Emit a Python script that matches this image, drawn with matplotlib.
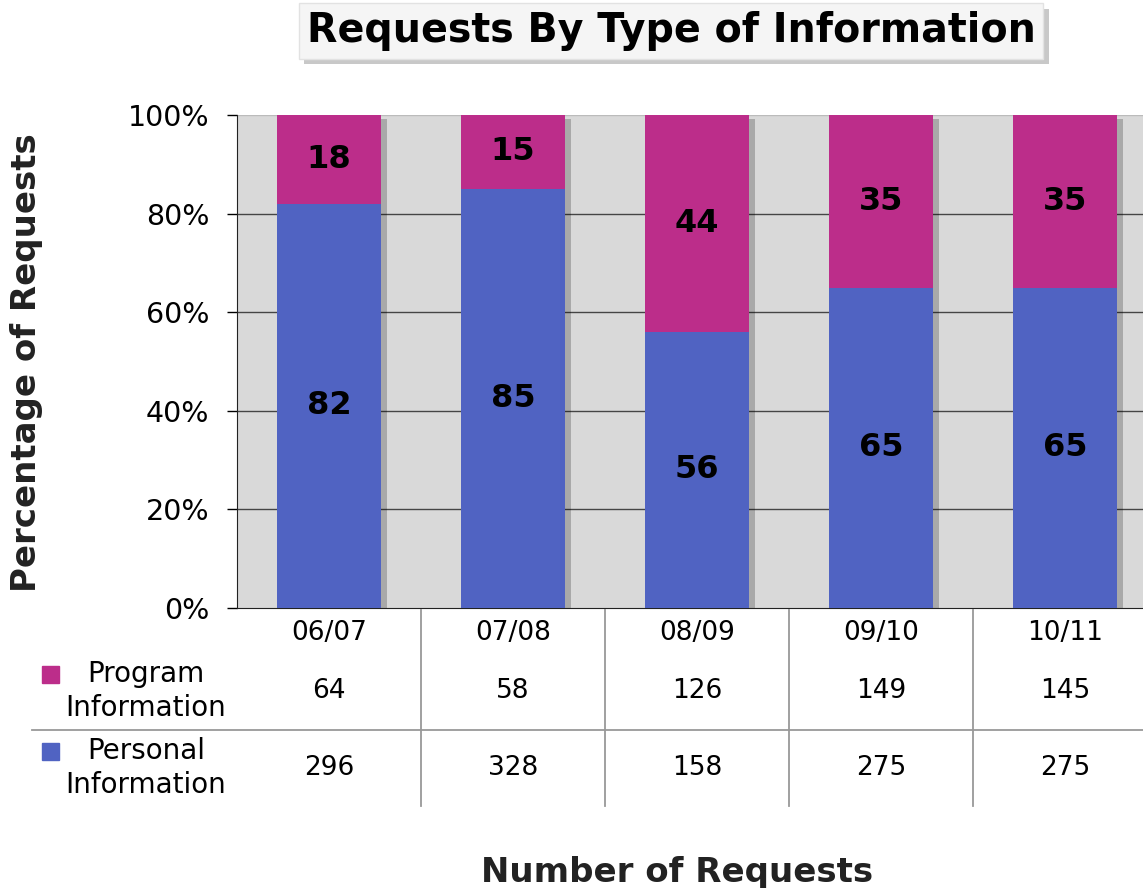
import matplotlib

matplotlib.use("Agg")
import matplotlib.pyplot as plt
import matplotlib.patheffects as pe
import matplotlib.transforms as mtransforms
import numpy as np

# --- данные ---
periods = ["06/07", "07/08", "08/09", "09/10", "10/11"]
personal_pct = [82, 85, 56, 65, 65]
program_pct = [18, 15, 44, 35, 35]
program_count = [64, 58, 126, 149, 145]
personal_count = [296, 328, 158, 275, 275]

BLUE = "#5063C2"
MAGENTA = "#BC2D8A"
FONT = "DejaVu Sans"
plt.rcParams["font.family"] = FONT

fig = plt.figure(figsize=(11.43, 8.88), dpi=100)
ax = fig.add_axes([237 / 1143, 1 - 608 / 888, 920 / 1143, 493 / 888])
ax.set_facecolor("#D9D9D9")

x = np.arange(len(periods))
total = np.add(personal_pct, program_pct)
# тень под столбиком целиком, чтобы не ложилась на нижний сегмент
sh = ax.bar(x, total, width=0.56, color="#D9D9D9", zorder=2)
for p in sh:
    p.set_path_effects([pe.SimplePatchShadow(offset=(5, -3), shadow_rgbFace="black",
                                             alpha=0.22)])
ax.bar(x, personal_pct, width=0.56, color=BLUE, zorder=3)
ax.bar(x, program_pct, width=0.56, bottom=personal_pct, color=MAGENTA, zorder=3)

for xi, a, b in zip(x, personal_pct, program_pct):
    ax.text(xi, a / 2, str(a), ha="center", va="center", fontsize=23,
            fontweight="bold", zorder=5)
    ax.text(xi, a + b / 2, str(b), ha="center", va="center", fontsize=23,
            fontweight="bold", zorder=5)

for y in (20, 40, 60, 80):
    ax.axhline(y, color="#454545", lw=1, zorder=1)
ax.axhline(100, color="#BBBBBB", lw=1, zorder=1)

ax.set_xlim(-0.5, 4.5)
ax.set_ylim(0, 100)
ax.set_yticks(range(0, 101, 20))
ax.set_yticklabels([f"{v}%" for v in range(0, 101, 20)], fontsize=20.5)
ax.tick_params(axis="y", length=7, width=1, pad=13)
ax.tick_params(axis="x", length=0, labelbottom=False)
for s in ("top", "right"):
    ax.spines[s].set_visible(False)
ax.spines["left"].set_color("#222222")
ax.spines["bottom"].set_color("#222222")

# --- таблица данных под осью ---
tr = mtransforms.blended_transform_factory(ax.transData, fig.transFigure)
fy = lambda py: 1 - py / 888
for xi, lab, pc, pe_ in zip(x, periods, program_count, personal_count):
    ax.text(xi, fy(633), lab, transform=tr, ha="center", va="center", fontsize=19)
    ax.text(xi, fy(691), str(pc), transform=tr, ha="center", va="center", fontsize=19)
    ax.text(xi, fy(768), str(pe_), transform=tr, ha="center", va="center", fontsize=19)
for xi in x[:-1] + 0.5:
    ax.plot([xi, xi], [fy(610), fy(806)], transform=tr, color="#999999", lw=1.3,
            clip_on=False)
fig.add_artist(plt.Line2D([32 / 1143, 1], [fy(730), fy(730)], color="#999999", lw=1.3))

for py, col, txt in ((691, MAGENTA, "Program\nInformation"),
                     (768, BLUE, "Personal\nInformation")):
    fig.add_artist(plt.Rectangle((42 / 1143, fy(py - 8)), 17 / 1143, 17 / 888,
                                 color=col))
    fig.text(146 / 1143, fy(py), txt, ha="center", va="center", fontsize=20,
             linespacing=1.3)

# --- заголовки ---
t = fig.text(671 / 1143, fy(31), "Requests By Type of Information", ha="center",
             va="center", fontsize=28.5, fontweight="bold",
             bbox=dict(boxstyle="square,pad=0.2", fc="#F5F5F5", ec="#E2E2E2"))
t.get_bbox_patch().set_path_effects(
    [pe.SimplePatchShadow(offset=(4, -4), alpha=0.3), pe.Normal()])
fig.text(27 / 1143, fy(363), "Percentage of Requests", rotation=90, ha="center",
         va="center", fontsize=24.5, fontweight="bold", color="#222222")
fig.text(677 / 1143, fy(872), "Number of Requests", ha="center", va="center",
         fontsize=24.5, fontweight="bold", color="#222222")

fig.savefig("out.png", dpi=100)
